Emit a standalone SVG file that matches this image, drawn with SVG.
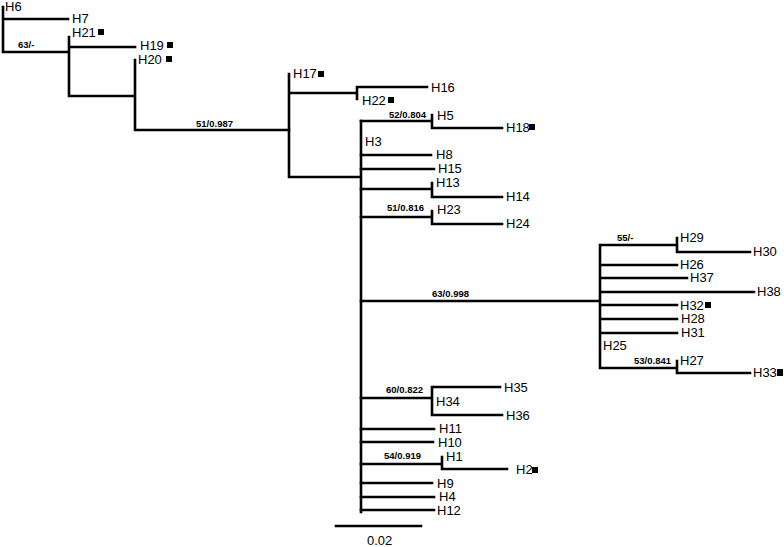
<svg xmlns="http://www.w3.org/2000/svg" width="784" height="547" viewBox="0 0 784 547">
<style>
.e{fill:none;stroke:#000;stroke-width:2.6;stroke-linecap:square}
.l{font-family:"Liberation Sans",Arial,sans-serif;font-size:13px;fill:#000}
.s{font-family:"Liberation Sans",Arial,sans-serif;font-size:9.5px;font-weight:bold;fill:#000}
.m{fill:#000}
</style>
<rect width="784" height="547" fill="#fff"/>
<g id="connectors">
<path class="e" d="M3,7V52M3,19H68M3,52H69M69,37V96M69,47H135M69,96H135M135,60V130M135,130H289"/>
<path class="e" d="M289,74V177M289,93H357M357,87V99M357,87H427M289,177H361M361,121V512"/>
<path class="e" d="M361,121H432M432,115V128M432,128H502M361,155H431M361,169H434M361,189H432M432,183V197M432,197H502M361,217H432M432,211V224M432,224H502"/>
<path class="e" d="M361,301H600M600,245V368M600,245H677M677,238V252M677,252H750M600,265H677M600,278H687M600,292H754M600,305H677M600,319H677M600,333H677M600,368H677M677,361V373M677,373H750"/>
<path class="e" d="M361,398H432M432,387V415M432,387H500M432,415H502M361,429H434M361,442H433M361,464H442M442,457V469M442,469H507M361,483H432M361,497H434M361,510H434"/>
<path class="e" d="M336,526H421"/>
</g>
<g id="H6"><text class="l" x="5" y="11">H6</text></g>
<g id="H7"><text class="l" x="72" y="23">H7</text></g>
<g id="H21"><text class="l" x="72" y="37">H21</text><rect class="m" x="98" y="29" width="6" height="6"/></g>
<g id="H19"><text class="l" x="140" y="50">H19</text><rect class="m" x="167" y="42" width="6" height="6"/></g>
<g id="H20"><text class="l" x="138" y="64">H20</text><rect class="m" x="166" y="56" width="6" height="6"/></g>
<g id="b63"><text class="s" x="18" y="48">63/-</text></g>
<g id="b51a"><text class="s" x="196" y="127">51/0.987</text></g>
<g id="H17"><text class="l" x="293" y="78">H17</text><rect class="m" x="318" y="71" width="6" height="6"/></g>
<g id="H16"><text class="l" x="431" y="92">H16</text></g>
<g id="H22"><text class="l" x="362" y="105">H22</text><rect class="m" x="388" y="97" width="6" height="6"/></g>
<g id="b52"><text class="s" x="389" y="118">52/0.804</text></g>
<g id="H5"><text class="l" x="437" y="120">H5</text></g>
<g id="H18"><text class="l" x="506" y="132">H18</text><rect class="m" x="529" y="124" width="6" height="6"/></g>
<g id="H3"><text class="l" x="365" y="146">H3</text></g>
<g id="H8"><text class="l" x="436" y="159">H8</text></g>
<g id="H15"><text class="l" x="438" y="173">H15</text></g>
<g id="H13"><text class="l" x="436" y="187">H13</text></g>
<g id="H14"><text class="l" x="506" y="201">H14</text></g>
<g id="b51b"><text class="s" x="387" y="211">51/0.816</text></g>
<g id="H23"><text class="l" x="437" y="214">H23</text></g>
<g id="H24"><text class="l" x="506" y="228">H24</text></g>
<g id="b63b"><text class="s" x="432" y="297">63/0.998</text></g>
<g id="b55"><text class="s" x="617" y="241">55/-</text></g>
<g id="H29"><text class="l" x="680" y="242">H29</text></g>
<g id="H30"><text class="l" x="753" y="256">H30</text></g>
<g id="H26"><text class="l" x="680" y="269">H26</text></g>
<g id="H37"><text class="l" x="690" y="282">H37</text></g>
<g id="H38"><text class="l" x="757" y="296">H38</text></g>
<g id="H32"><text class="l" x="680" y="310">H32</text><rect class="m" x="705" y="302" width="6" height="6"/></g>
<g id="H28"><text class="l" x="681" y="323">H28</text></g>
<g id="H31"><text class="l" x="681" y="337">H31</text></g>
<g id="H25"><text class="l" x="603" y="350">H25</text></g>
<g id="b53"><text class="s" x="634" y="364">53/0.841</text></g>
<g id="H27"><text class="l" x="680" y="365">H27</text></g>
<g id="H33"><text class="l" x="753" y="377">H33</text><rect class="m" x="777" y="369" width="6" height="7"/></g>
<g id="b60"><text class="s" x="386" y="393">60/0.822</text></g>
<g id="H35"><text class="l" x="504" y="392">H35</text></g>
<g id="H34"><text class="l" x="436" y="406">H34</text></g>
<g id="H36"><text class="l" x="506" y="420">H36</text></g>
<g id="H11"><text class="l" x="439" y="433">H11</text></g>
<g id="H10"><text class="l" x="438" y="447">H10</text></g>
<g id="b54"><text class="s" x="384" y="459">54/0.919</text></g>
<g id="H1"><text class="l" x="446" y="461">H1</text></g>
<g id="H2"><text class="l" x="516" y="474">H2</text><rect class="m" x="532" y="467" width="6" height="6"/></g>
<g id="H9"><text class="l" x="437" y="488">H9</text></g>
<g id="H4"><text class="l" x="439" y="501">H4</text></g>
<g id="H12"><text class="l" x="437" y="515">H12</text></g>
<g id="scale"><text class="l" x="367" y="545">0.02</text></g>
</svg>
